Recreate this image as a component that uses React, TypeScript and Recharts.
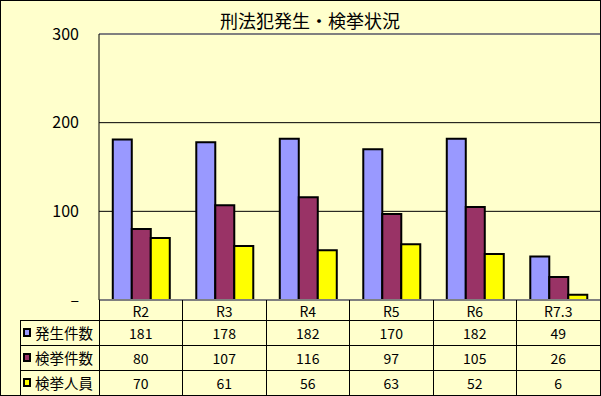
import { BarChart, Bar, XAxis, YAxis, CartesianGrid, ReferenceLine } from 'recharts';

const categories = ['R2', 'R3', 'R4', 'R5', 'R6', 'R7.3'];
const occurrences = [181, 178, 182, 170, 182, 49];
const clearances = [80, 107, 116, 97, 105, 26];
const arrested = [70, 61, 56, 63, 52, 6];
const seriesNames = ['発生件数', '検挙件数', '検挙人員'];
const seriesColors = ['#9999FF', '#993366', '#FFFF00'];
const yTicks = [0, 100, 200, 300];
const title = '刑法犯発生・検挙状況';

const rows = [occurrences, clearances, arrested];
const data = categories.map((name, i) => ({
    name,
    occ: occurrences[i],
    clr: clearances[i],
    arr: arrested[i],
}));

const W = 601;
const H = 396;
const PLOT_LEFT = 99;
const PLOT_RIGHT = 600;
const AXIS_Y = 300;
const COL_W = (PLOT_RIGHT - PLOT_LEFT) / categories.length;
const HEADER_H = 20;
const ROW_H = 25;
const LEGEND_LEFT = 20;
const FONT = '"Noto Sans CJK JP", sans-serif';

// x axis tick draws one column of the data table (and the legend column for the first one)
const TableTick = (props: any) => {
    const { x, y, payload } = props;
    const i = categories.indexOf(payload.value);
    const left = x - COL_W / 2;
    const right = x + COL_W / 2;
    return (
        <g shapeRendering="crispEdges">
            <line x1={right} y1={y} x2={right} y2={H} stroke="#000" />
            {rows.map((_, r) => (
                <line key={r} x1={left} x2={right} y1={y + HEADER_H + r * ROW_H} y2={y + HEADER_H + r * ROW_H} stroke="#000" />
            ))}
            <text x={x} y={y + HEADER_H / 2 + 1} textAnchor="middle" dominantBaseline="central" fontSize={14} fontFamily={FONT} fill="#000">
                {payload.value}
            </text>
            {rows.map((vals, r) => (
                <text key={r} x={x} y={y + HEADER_H + r * ROW_H + ROW_H / 2} textAnchor="middle" dominantBaseline="central" fontSize={14} fontFamily={FONT} fill="#000">
                    {vals[i]}
                </text>
            ))}
            {i === 0 && (
                <g>
                    <line x1={left} x2={left} y1={y} y2={H} stroke="#000" />
                    <line x1={LEGEND_LEFT} x2={LEGEND_LEFT} y1={y + HEADER_H} y2={H} stroke="#000" />
                    {seriesNames.map((s, r) => {
                        const top = y + HEADER_H + r * ROW_H;
                        return (
                            <g key={s}>
                                <line x1={LEGEND_LEFT} x2={left} y1={top} y2={top} stroke="#000" />
                                <rect x={24} y={top + 9} width={6} height={7} fill={seriesColors[r]} stroke="#000" strokeWidth={1.5} />
                                <text x={35} y={top + ROW_H / 2} dominantBaseline="central" fontSize={14.5} fontFamily={FONT} fill="#000">
                                    {s}
                                </text>
                            </g>
                        );
                    })}
                </g>
            )}
        </g>
    );
};

const App = () => (
    <div style={{ position: 'absolute', left: 0, top: 0, width: W, height: H, background: '#FFFFCC', boxShadow: 'inset 0 0 0 1px #000' }}>
        <div style={{ position: 'absolute', left: 310, top: 11, transform: 'translateX(-50%)', fontSize: 18, lineHeight: '18px', fontFamily: FONT, whiteSpace: 'nowrap', color: '#000' }}>
            {title}
        </div>
        <BarChart
            width={W}
            height={H}
            data={data}
            margin={{ top: 34, right: W - PLOT_RIGHT, bottom: 0, left: 0 }}
            barCategoryGap="16.5%"
            barGap={0}
            style={{ position: 'absolute', left: 0, top: 0 }}
        >
            <CartesianGrid vertical={false} stroke="#000" />
            <XAxis
                dataKey="name"
                height={H - AXIS_Y}
                interval={0}
                axisLine={{ stroke: '#808080', strokeWidth: 2 }}
                tickLine={false}
                tickSize={0}
                tickMargin={0}
                tick={TableTick}
            />
            <YAxis
                type="number"
                domain={[0, 300]}
                ticks={yTicks}
                interval={0}
                width={PLOT_LEFT}
                axisLine={{ stroke: '#000' }}
                tickLine={false}
                tickSize={0}
                tickMargin={20}
                tick={{ fill: '#000', fontSize: 16, fontFamily: FONT }}
                tickFormatter={(v: number) => (v === 0 ? '–' : String(v))}
            />
            <ReferenceLine y={300} stroke="#808080" strokeWidth={2} />
            <Bar dataKey="occ" name={seriesNames[0]} fill={seriesColors[0]} stroke="#000" strokeWidth={2} isAnimationActive={false} />
            <Bar dataKey="clr" name={seriesNames[1]} fill={seriesColors[1]} stroke="#000" strokeWidth={2} isAnimationActive={false} />
            <Bar dataKey="arr" name={seriesNames[2]} fill={seriesColors[2]} stroke="#000" strokeWidth={2} isAnimationActive={false} />
        </BarChart>
    </div>
);

export default App;
